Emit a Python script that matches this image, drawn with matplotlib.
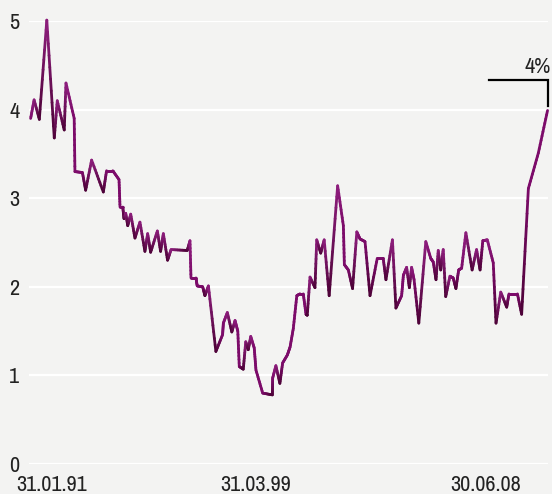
import numpy as np
import matplotlib
matplotlib.use("Agg")
import matplotlib.pyplot as plt
from matplotlib.collections import LineCollection
from matplotlib.colors import to_rgb
from matplotlib import font_manager

# decimal year / rate (%)
dates = [1990.23, 1990.37, 1990.58, 1990.88, 1991.18, 1991.30, 1991.58, 1991.65,
         1991.98, 1992.01, 1992.31, 1992.44, 1992.68, 1993.15, 1993.28, 1993.53,
         1993.78, 1993.82, 1993.93, 1993.98, 1994.05, 1994.13, 1994.25, 1994.42,
         1994.62, 1994.82, 1994.93, 1995.05, 1995.32, 1995.45, 1995.56, 1995.73,
         1995.87, 1996.52, 1996.63, 1996.67, 1996.87, 1996.92, 1997.14, 1997.23,
         1997.37, 1997.67, 1997.94, 1997.97, 1998.13, 1998.31, 1998.44, 1998.55,
         1998.61, 1998.77, 1998.87, 1998.97, 1999.07, 1999.21, 1999.28, 1999.55,
         1999.94, 1999.95, 2000.08, 2000.24, 2000.35, 2000.54, 2000.65, 2000.78,
         2000.92, 2001.05, 2001.18, 2001.29, 2001.34, 2001.45, 2001.65, 2001.72,
         2001.88, 2002.02, 2002.22, 2002.56, 2002.79, 2002.83, 2002.99, 2003.16,
         2003.33, 2003.46, 2003.66, 2003.86, 2004.15, 2004.39, 2004.50, 2004.76,
         2004.90, 2005.13, 2005.20, 2005.33, 2005.44, 2005.53, 2005.63, 2005.82,
         2006.10, 2006.30, 2006.40, 2006.51, 2006.60, 2006.70, 2006.80, 2006.90,
         2007.07, 2007.20, 2007.31, 2007.42, 2007.54, 2007.71, 2007.96, 2008.14,
         2008.28, 2008.39, 2008.57, 2008.81, 2008.92, 2009.11, 2009.35, 2009.44,
         2009.78, 2009.95, 2010.22, 2010.62, 2010.99]
rate = [3.90, 4.11, 3.89, 5.01, 3.68, 4.10, 3.77, 4.30,
        3.90, 3.30, 3.29, 3.09, 3.43, 3.07, 3.31, 3.31,
        3.21, 2.90, 2.90, 2.77, 2.83, 2.69, 2.82, 2.55,
        2.73, 2.40, 2.60, 2.39, 2.63, 2.40, 2.60, 2.30,
        2.42, 2.41, 2.52, 2.10, 2.10, 2.01, 2.00, 1.90,
        2.01, 1.27, 1.46, 1.59, 1.71, 1.49, 1.62, 1.50,
        1.10, 1.07, 1.38, 1.29, 1.44, 1.31, 1.06, 0.80,
        0.78, 0.97, 1.11, 0.91, 1.14, 1.23, 1.32, 1.53,
        1.90, 1.92, 1.92, 1.69, 1.68, 2.11, 1.99, 2.53,
        2.38, 2.53, 1.90, 3.14, 2.69, 2.25, 2.19, 1.98,
        2.62, 2.54, 2.51, 1.90, 2.32, 2.32, 2.08, 2.53,
        1.76, 1.90, 2.13, 2.22, 1.99, 2.22, 2.08, 1.59,
        2.51, 2.32, 2.28, 2.08, 2.41, 2.19, 2.42, 1.89,
        2.12, 2.10, 1.98, 2.19, 2.21, 2.61, 2.19, 2.42,
        2.19, 2.52, 2.53, 2.27, 1.59, 1.94, 1.77, 1.92,
        1.92, 1.69, 3.11, 3.51, 3.99]

yticks = [0, 1, 2, 3, 4, 5]
xtick_dates = [1991.08, 1999.25, 2008.50]
xtick_labels = ["31.01.91", "31.03.99", "30.06.08"]

BG = "#f3f3f2"
TXT = "#222222"

# look for a narrow face among the installed fonts
names = {f.name for f in font_manager.fontManager.ttflist}
narrow = [n for n in names if "Condensed" in n or "Narrow" in n]
plt.rcParams["font.family"] = sorted(narrow)[:1] + ["DejaVu Sans"]
plt.rcParams["font.stretch"] = "condensed"

fig = plt.figure(figsize=(5.52, 4.94), dpi=100, facecolor=BG)
ax = fig.add_axes([29 / 552, 30 / 494, 519 / 552, 443 / 494], facecolor=BG)

x = np.array(dates)
y = np.array(rate)

# vertex shade: troughs dark, peaks lighter
light = np.array(to_rgb("#8e1e7e"))
mid = np.array(to_rgb("#7c0b6a"))
dark = np.array(to_rgb("#4c0236"))
vcol = []
for i in range(len(y)):
    lo = y[max(i - 1, 0)]
    hi = y[min(i + 1, len(y) - 1)]
    if y[i] < lo and y[i] < hi:
        vcol.append(dark)
    elif y[i] > lo and y[i] > hi:
        vcol.append(light)
    else:
        vcol.append(mid)

segs, cols = [], []
n = 10
for i in range(len(x) - 1):
    t = np.linspace(0, 1, n + 1)
    xs = x[i] + (x[i + 1] - x[i]) * t
    ys = y[i] + (y[i + 1] - y[i]) * t
    for k in range(n):
        segs.append([(xs[k], ys[k]), (xs[k + 1], ys[k + 1])])
        f = (t[k] + t[k + 1]) / 2
        cols.append(vcol[i] * (1 - f) + vcol[i + 1] * f)
lc = LineCollection(segs, colors=cols, linewidths=2.0, capstyle="round",
                    joinstyle="round", clip_on=False, zorder=3)
ax.add_collection(lc)

ax.set_xlim(1990.165, 2011.008)
ax.set_ylim(0, 5)
ax.set_yticks(yticks)
ax.set_xticks(xtick_dates)
ax.set_xticklabels(xtick_labels)
ax.yaxis.grid(True, color="white", lw=1.6)
ax.set_axisbelow(True)
for s in ax.spines.values():
    s.set_visible(False)
ax.tick_params(axis="both", length=0, labelsize=16, colors=TXT)
ax.tick_params(axis="y", pad=7)
ax.tick_params(axis="x", pad=8)

# bracket marking the last value
ax.plot([2008.64, 2011.0, 2011.0], [4.33, 4.33, 4.04], color="black",
        lw=1.6, clip_on=False, solid_joinstyle="miter", zorder=4)
ax.text(2011.12, 4.41, "4%", ha="right", va="baseline", fontsize=16,
        color=TXT, clip_on=False)

fig.savefig("out.png", dpi=100, facecolor=BG)
